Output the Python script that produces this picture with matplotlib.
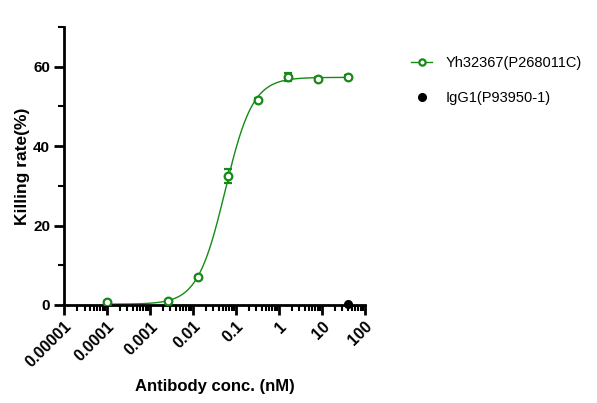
import matplotlib
matplotlib.use("Agg")
import matplotlib.pyplot as plt
import numpy as np
from matplotlib.lines import Line2D


# DATOS

conc_yh = [0.0001024, 0.00256, 0.0128, 0.064, 0.32, 1.6, 8.0, 40.0]
kill_yh = [0.75, 0.9, 7.1, 32.4, 51.7, 57.3, 56.9, 57.5]
err_yh = [0.2, 0.2, 0.3, 1.8, 0.4, 1.0, 0.4, 0.3]

conc_igg = [40.0]
kill_igg = [0.3]

# parametros del ajuste 4PL (bottom, top, EC50, hill)
fit_bottom = 0.2
fit_top = 57.3
fit_ec50 = 0.056
fit_hill = 1.35

x_ticks = [1e-5, 1e-4, 1e-3, 1e-2, 1e-1, 1, 10, 100]
x_ticklabels = ["0.00001", "0.0001", "0.001", "0.01", "0.1", "1", "10", "100"]
y_ticks = [0, 20, 40, 60]

GREEN = "#158a15"

plt.rcParams["font.family"] = ["Liberation Sans", "DejaVu Sans"]

fig = plt.figure(figsize=(5.97, 4.03), dpi=100)
ax = fig.add_axes([0.1072, 0.2432, 0.504, 0.69])

# curva ajustada
xs = np.logspace(np.log10(conc_yh[0]), np.log10(conc_yh[-1]), 300)
ys = fit_bottom + (fit_top - fit_bottom) / (1 + (fit_ec50 / xs) ** fit_hill)
ax.plot(xs, ys, color=GREEN, lw=1.0, zorder=2)

ax.errorbar(
    conc_yh, kill_yh, yerr=err_yh,
    fmt="o", ms=5.5, mfc="white", mec=GREEN, mew=1.6,
    ecolor=GREEN, elinewidth=1.0, capsize=3, capthick=1.0,
    zorder=3
)

ax.plot(conc_igg, kill_igg, "o", color="black", ms=5.5, zorder=4,
        clip_on=False)

ax.set_xscale("log")
ax.set_xlim(1e-5, 100)
ax.set_ylim(0, 70)

ax.set_xticks(x_ticks)
ax.set_xticklabels(x_ticklabels, rotation=45, ha="right",
                   rotation_mode="anchor", fontweight="bold", fontsize=11.5)
ax.xaxis.set_minor_locator(
    matplotlib.ticker.LogLocator(base=10, subs=np.arange(2, 10), numticks=20)
)
ax.xaxis.set_minor_formatter(matplotlib.ticker.NullFormatter())

ax.set_yticks(y_ticks)
ax.set_yticklabels([str(v) for v in y_ticks], fontweight="bold", fontsize=11)
ax.yaxis.set_minor_locator(matplotlib.ticker.MultipleLocator(10))

for s in ["top", "right"]:
    ax.spines[s].set_visible(False)
for s in ["left", "bottom"]:
    ax.spines[s].set_linewidth(2.0)

ax.tick_params(axis="both", which="major", length=7, width=2.0, pad=3)
ax.tick_params(axis="both", which="minor", length=4, width=1.5)

ax.set_xlabel("Antibody conc. (nM)", fontweight="bold", fontsize=12,
              labelpad=6)
ax.set_ylabel("Killing rate(%)", fontweight="bold", fontsize=12.5,
              labelpad=2.5)

handles = [
    Line2D([], [], color=GREEN, lw=1.0, marker="o", ms=4.5, mfc="white",
           mec=GREEN, mew=1.6),
    Line2D([], [], color="black", lw=0, marker="o", ms=5.5),
]
fig.legend(
    handles, ["Yh32367(P268011C)", "IgG1(P93950-1)"],
    loc="upper left", bbox_to_anchor=(0.667, 0.893),
    frameon=False, fontsize=10.5, handlelength=1.45,
    labelspacing=1.45, handletextpad=0.9
)

fig.savefig("out.png", dpi=100)
